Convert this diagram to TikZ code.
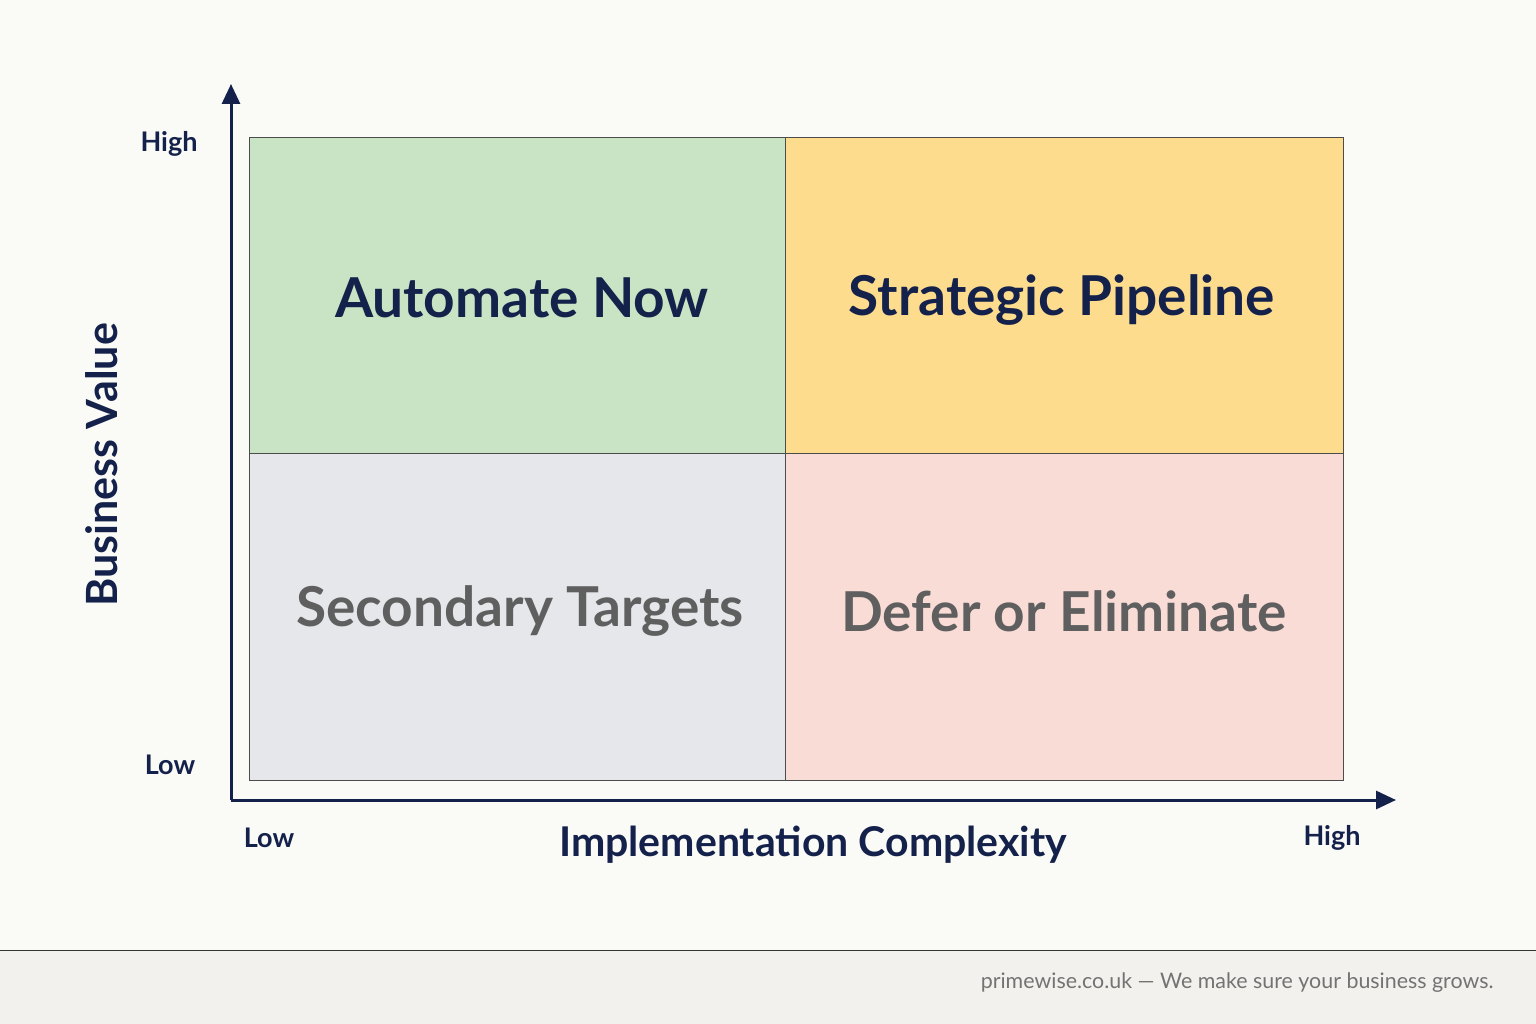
\documentclass[tikz,border=0pt]{standalone}
\usepackage{fontspec}
\setmainfont{Lato}
\usetikzlibrary{arrows.meta}
\definecolor{navy}{HTML}{14214A}
\definecolor{qgreen}{HTML}{C9E4C5}
\definecolor{qyellow}{HTML}{FDDC8E}
\definecolor{qgrey}{HTML}{E6E7EA}
\definecolor{qpink}{HTML}{F9DCD5}
\definecolor{bg}{HTML}{FAFAF7}
\definecolor{foot}{HTML}{F2F1EE}
\definecolor{tgrey}{HTML}{5F5F5F}
\tikzset{
 quad/.style={draw=black!70,line width=0.8pt},
 qtitle/.style={font=\fontsize{55}{62}\selectfont\bfseries},
 ticklab/.style={font=\fontsize{27}{30}\selectfont\bfseries,text=navy},
 axis/.style={draw=navy,line width=3pt,-{Triangle[length=20pt,width=18pt]}}
}
\begin{document}
\begin{tikzpicture}[x=1pt,y=-1pt]
\useasboundingbox (0,0) rectangle (1536,1024);
\fill[bg] (0,0) rectangle (1536,950);
\fill[foot] (0,950) rectangle (1536,1024);
\draw[black!80,line width=1pt] (0,950) -- (1536,950);
\filldraw[quad,fill=qgreen] (249,137) rectangle (785,453);
\filldraw[quad,fill=qyellow] (785,137) rectangle (1343,453);
\filldraw[quad,fill=qgrey] (249,453) rectangle (785,780);
\filldraw[quad,fill=qpink] (785,453) rectangle (1343,780);
\node[qtitle,text=navy] (an) at (522,298) {Automate Now};
\node[qtitle,text=navy] (sp) at (1062,300) {Strategic Pipeline};
\node[qtitle,text=tgrey] (st) at (520,611) {Secondary Targets};
\node[qtitle,text=tgrey] (de) at (1064,611) {Defer or Eliminate};
\coordinate (o) at (231,800);
\coordinate (ytop) at (231,84);
\coordinate (xend) at (1396,800);
\draw[axis] (o) -- (ytop);
\draw[axis] (o) -- (xend);
\node[ticklab] (yh) at (169,144) {High};
\node[ticklab] (yl) at (170,765) {Low};
\node[ticklab] (xl) at (269,838) {Low};
\node[ticklab] (xh) at (1332,838) {High};
\node[font=\fontsize{41}{46}\selectfont\bfseries,text=navy] (xt) at (813,845) {Implementation Complexity};
\node[font=\fontsize{43}{48}\selectfont\bfseries,text=navy,rotate=90] (yt) at (102,465) {Business Value};
\node[font=\fontsize{21.4}{25}\selectfont,text=black!55,anchor=east] (ft) at (1497,983) {primewise.co.uk — We make sure your business grows.};
\end{tikzpicture}
\end{document}
